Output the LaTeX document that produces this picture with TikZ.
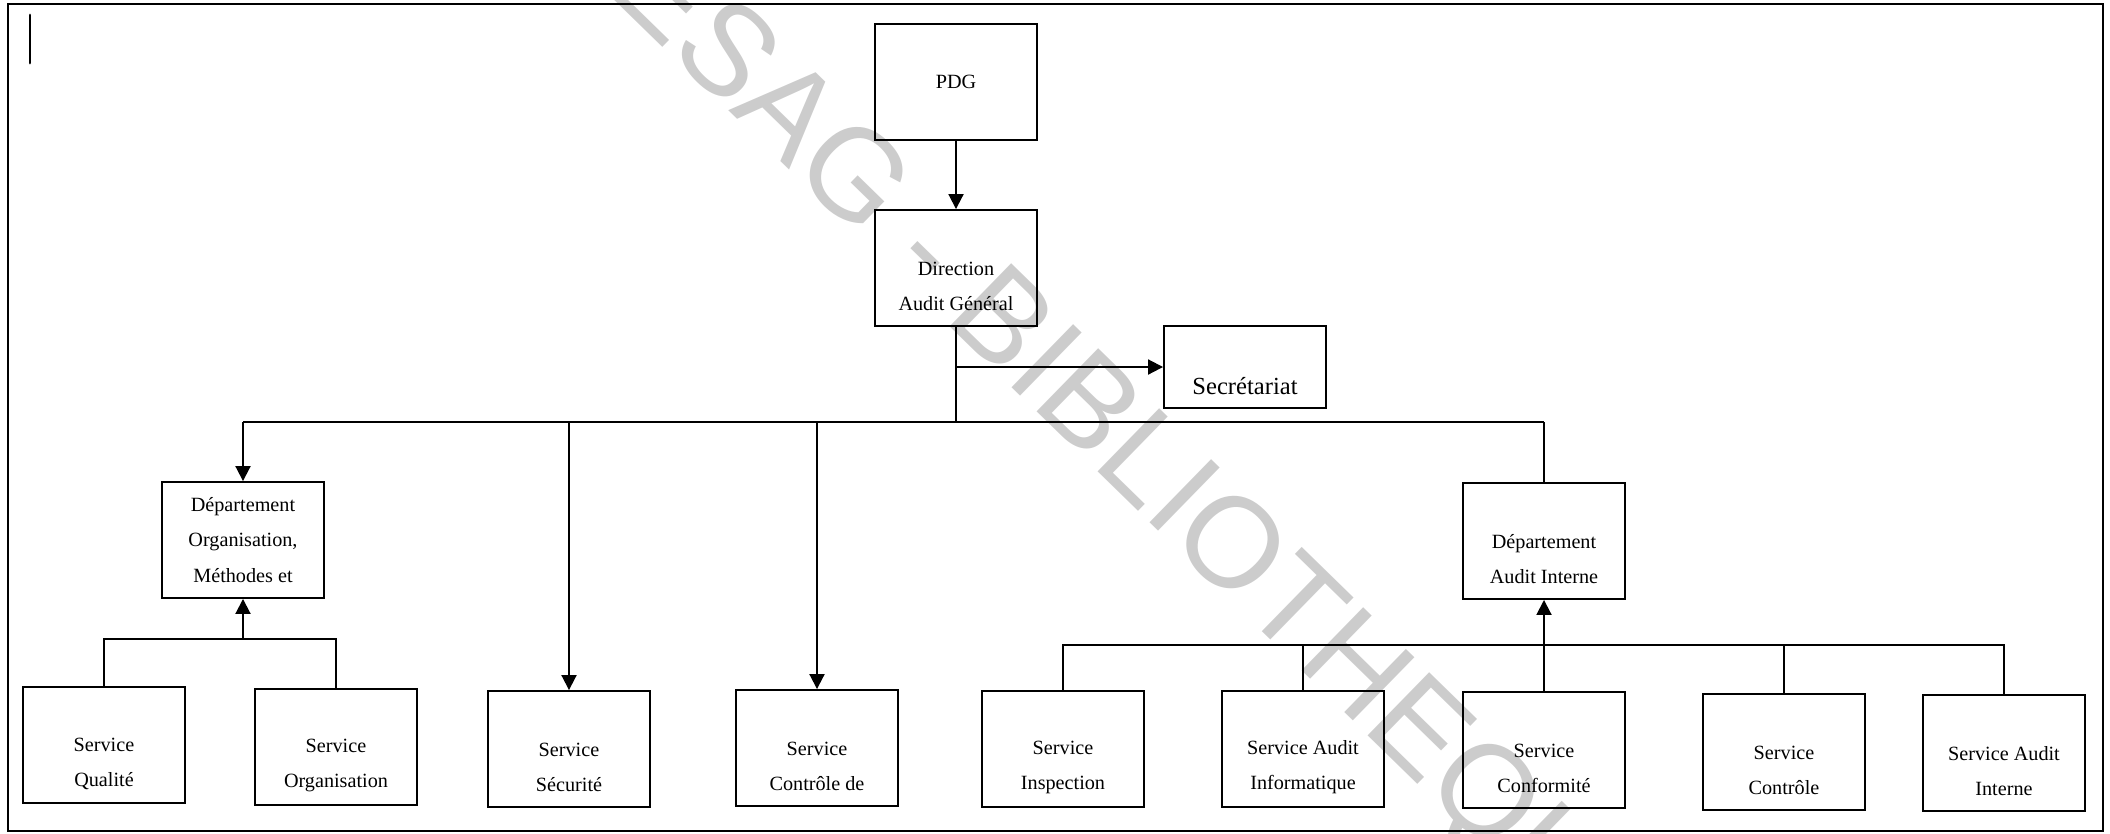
\documentclass[tikz,border=0pt]{standalone}
\usepackage{fontspec}
\setmainfont{Liberation Serif}
\newfontfamily\wmfont{Liberation Sans}
\usetikzlibrary{arrows.meta,positioning}

\begin{document}
\begin{tikzpicture}[
    x=0.02cm, y=-0.02cm,
    font=\fontsize{11.5pt}{20pt}\selectfont,
    line width=1.1pt,
    unit/.style={draw, align=center, inner sep=0pt, minimum width=3.24cm, minimum height=2.32cm},
    link/.style={-{Triangle[width=0.3cm,length=0.3cm]}},
  ]
  \useasboundingbox (0,0) rectangle (2110,833);
  % filigrane
  \begin{scope}
    \clip (0,0) rectangle (2110,833);
    \node[font=\wmfont\fontsize{73pt}{73pt}\selectfont, text=black!20, rotate=-44.3] (wm) at (1103,431) {CESAG - BIBLIOTHEQUE};
  \end{scope}
  \draw (8,4) rectangle (2103,831);
  \draw[line width=1.7pt, line cap=round] (30,15) -- (30,63);

  % direction
  \node[unit] (pdg) at (956,82) {PDG};
  \node[unit] (dag) at (956,268) {\mbox{}\\[9pt]Direction\\Audit Général};
  \node[unit, minimum height=1.63cm, font=\fontsize{14pt}{31pt}\selectfont] (sec) at (1245,367) {\mbox{}\\Secrétariat};

  % departements
  \node[unit] (dom) at (243,540) {Département\\Organisation,\\Méthodes et};
  \node[unit] (dai) at (1544,541) {\mbox{}\\[9pt]Département\\Audit Interne};

  % services
  \node[unit] (sq) at (104,745) {\mbox{}\\[9pt]Service\\Qualité};
  \node[unit] (so) at (336,747) {\mbox{}\\[9pt]Service\\Organisation};
  \node[unit] (ss) at (569,749) {\mbox{}\\[9pt]Service\\Sécurité};
  \node[unit] (sc) at (817,748) {\mbox{}\\[9pt]Service\\Contrôle de};
  \node[unit] (si) at (1063,749) {\mbox{}\\[9pt]Service\\Inspection};
  \node[unit] (sa) at (1303,749) {\mbox{}\\[9pt]Service Audit\\Informatique};
  \node[unit] (scf) at (1544,750) {\mbox{}\\[9pt]Service\\Conformité};
  \node[unit] (sct) at (1784,752) {\mbox{}\\[9pt]Service\\Contrôle};
  \node[unit] (sai) at (2004,753) {\mbox{}\\[9pt]Service Audit\\Interne};

  % liaisons
  \coordinate (b0) at (dag.south |- 0,422);
  \coordinate (b1) at (dom.south |- 0,639);
  \coordinate (b2) at (dai.south |- 0,645);
  \draw[link] (pdg) -- (dag);
  \draw (dag.south) -- (b0);
  \draw[link] (sec.west -| dag.south) -- (sec.west);
  \draw (dom.north |- b0) -- (dai.north |- b0);
  \draw[link] (dom.north |- b0) -- (dom.north);
  \draw[link] (ss.north |- b0) -- (ss.north);
  \draw[link] (sc.north |- b0) -- (sc.north);
  \draw (dai.north |- b0) -- (dai.north);
  \draw (sq.north) |- (b1) -| (so.north);
  \draw[link] (b1) -- (dom.south);
  \draw (si.north) |- (b2) -| (sai.north);
  \draw (sa.north) -- (sa.north |- b2);
  \draw (sct.north) -- (sct.north |- b2);
  \draw[link] (scf.north) -- (dai.south);
\end{tikzpicture}
\end{document}
